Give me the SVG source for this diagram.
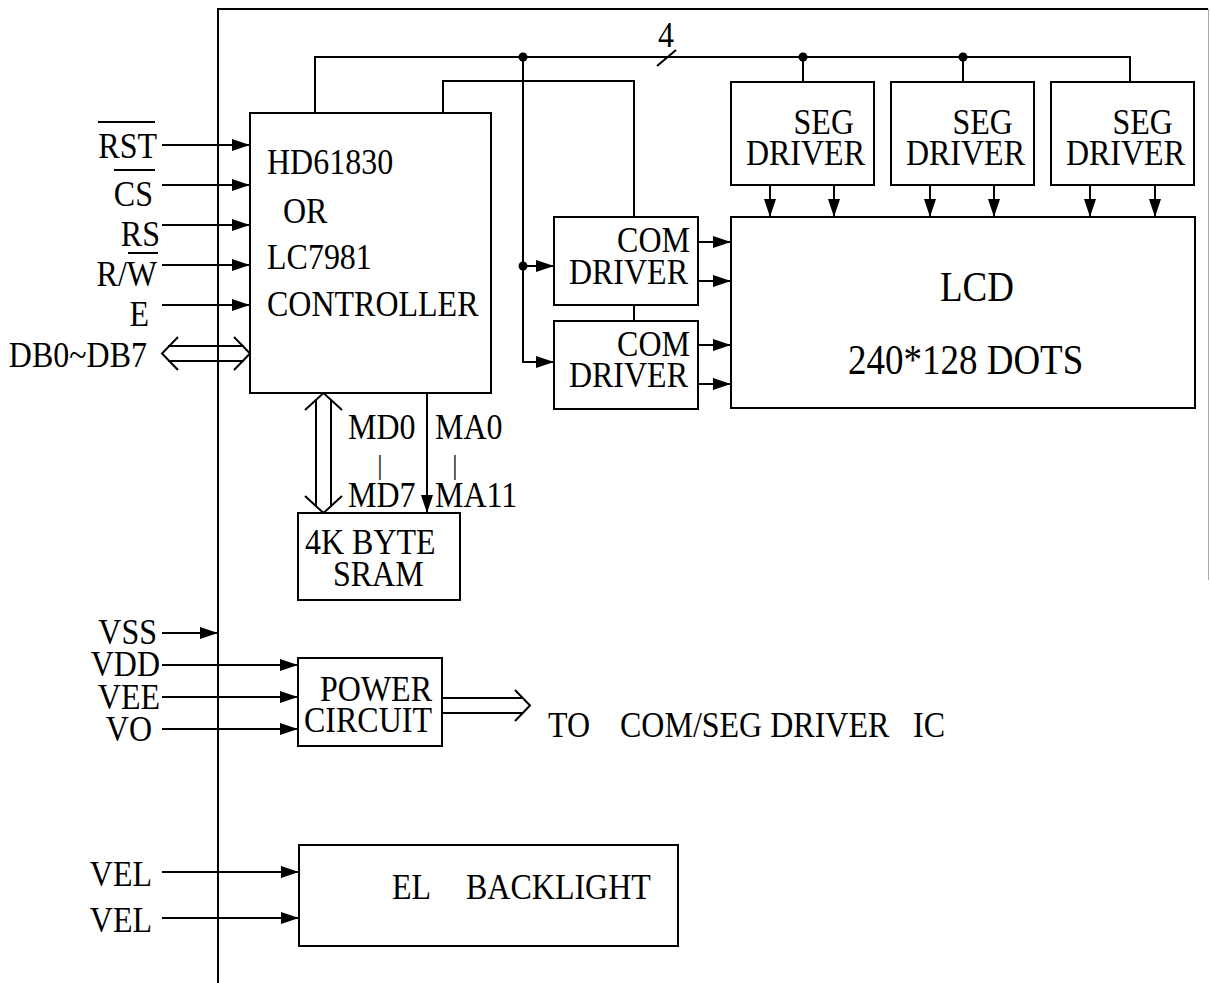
<svg xmlns="http://www.w3.org/2000/svg" width="1210" height="983" viewBox="0 0 1210 983">
<defs>
<marker id="ah" markerUnits="userSpaceOnUse" markerWidth="18" markerHeight="12" refX="18" refY="6" orient="auto" viewBox="0 0 18 12">
<path d="M0,0 L18,6 L0,12 z" fill="#000"/>
</marker>
</defs>
<style>
.t{font-family:"Liberation Serif","Times New Roman",serif;font-size:32px;fill:#000;transform-box:fill-box;transform-origin:0 100%;transform:scaleY(1.12)}
.e{text-anchor:end}
.big{font-size:37px}
.box{fill:#fff;stroke:#000;stroke-width:2}
.w{fill:none;stroke:#000;stroke-width:2}
.a{fill:none;stroke:#000;stroke-width:2;marker-end:url(#ah)}
</style>
<rect width="1210" height="983" fill="#fff"/>
<g id="frame">
<path class="w" d="M218,983 V9 H1208"/>
<path d="M1208.5,9 V580" stroke="#aaa" stroke-width="1" fill="none"/>
</g>
<g id="connectors">
<path class="w" d="M315,113 V57 H1130 V82"/>
<path class="w" d="M803,57 V82 M963,57 V82"/>
<path class="w" d="M443,113 V81 H634 V217"/>
<path class="w" d="M634,305 V321"/>
<path class="a" d="M523,57 V362 H554"/>
<path class="a" d="M523,266 H554"/>
<circle cx="523" cy="57" r="4.5"/>
<circle cx="803" cy="57" r="4.5"/>
<circle cx="963" cy="57" r="4.5"/>
<circle cx="523" cy="266" r="4.5"/>
<path class="w" d="M657,66 L676,50"/>
<path class="a" d="M698,242 H731"/>
<path class="a" d="M698,281 H731"/>
<path class="a" d="M698,345 H731"/>
<path class="a" d="M698,384 H731"/>
<path class="a" d="M770,185 V217"/>
<path class="a" d="M834,185 V217"/>
<path class="a" d="M930,185 V217"/>
<path class="a" d="M994,185 V217"/>
<path class="a" d="M1090,185 V217"/>
<path class="a" d="M1155,185 V217"/>
<path class="a" d="M162,145 H250"/>
<path class="a" d="M162,185 H250"/>
<path class="a" d="M162,225 H250"/>
<path class="a" d="M162,265 H250"/>
<path class="a" d="M162,305 H250"/>
<path class="w" d="M168,346 H244 M168,361 H244 M178,337 L162,353.5 L178,370 M234,337 L250,353.5 L234,370"/>
<path class="w" d="M316,399 V507 M331,399 V507 M305,410 L323.5,393 L342,410 M305,496 L323.5,513 L342,496"/>
<path class="a" d="M427,393 V513"/>
<path class="a" d="M162,633 H218"/>
<path class="a" d="M162,665 H298"/>
<path class="a" d="M162,697 H298"/>
<path class="a" d="M162,729 H298"/>
<path class="w" d="M442,698 H523 M442,713 H523 M515,690 L530,705.5 L515,721"/>
<path class="a" d="M162,872 H299"/>
<path class="a" d="M162,918 H299"/>
</g>
<g id="pin-labels">
<text class="t e" x="157" y="159">RST</text>
<path class="w" d="M98,122 H155"/>
<text class="t e" x="153" y="207">CS</text>
<path class="w" d="M114,170 H155"/>
<text class="t e" x="160" y="247">RS</text>
<text class="t e" x="157" y="287">R/W</text>
<path class="w" d="M128,253 H158"/>
<text class="t e" x="149" y="327">E</text>
<text class="t e" x="147" y="368">DB0~DB7</text>
<text class="t" x="666" y="48" text-anchor="middle">4</text>
<text class="t" x="348" y="440">MD0</text>
<text class="t" x="380" y="475" text-anchor="middle" style="font-size:24px">|</text>
<text class="t" x="348" y="508">MD7</text>
<text class="t" x="435" y="440">MA0</text>
<text class="t" x="455" y="475" text-anchor="middle" style="font-size:24px">|</text>
<text class="t" x="435" y="508">MA11</text>
<text class="t e" x="157" y="645">VSS</text>
<text class="t e" x="160" y="677">VDD</text>
<text class="t e" x="160" y="710">VEE</text>
<text class="t e" x="152" y="742">VO</text>
<text class="t" x="548" y="738">TO</text>
<text class="t" x="620" y="738">COM/SEG DRIVER</text>
<text class="t" x="913" y="738">IC</text>
<text class="t e" x="152" y="887">VEL</text>
<text class="t e" x="152" y="933">VEL</text>
</g>
<g id="controller">
<rect class="box" x="250" y="113" width="241" height="280"/>
<text class="t" x="267" y="175">HD61830</text>
<text class="t" x="283" y="224">OR</text>
<text class="t" x="267" y="270">LC7981</text>
<text class="t" x="267" y="317">CONTROLLER</text>
</g>
<g id="com1">
<rect class="box" x="554" y="217" width="144" height="88"/>
<text class="t e" x="690" y="253">COM</text>
<text class="t e" x="688" y="285">DRIVER</text>
</g>
<g id="com2">
<rect class="box" x="554" y="321" width="144" height="88"/>
<text class="t e" x="690" y="357">COM</text>
<text class="t e" x="688" y="388">DRIVER</text>
</g>
<g id="seg1">
<rect class="box" x="731" y="82" width="143" height="103"/>
<text class="t e" x="854" y="135">SEG</text>
<text class="t e" x="865" y="166">DRIVER</text>
</g>
<g id="seg2">
<rect class="box" x="891" y="82" width="143" height="103"/>
<text class="t e" x="1013" y="135">SEG</text>
<text class="t e" x="1025" y="166">DRIVER</text>
</g>
<g id="seg3">
<rect class="box" x="1051" y="82" width="143" height="103"/>
<text class="t e" x="1173" y="135">SEG</text>
<text class="t e" x="1185" y="166">DRIVER</text>
</g>
<g id="lcd">
<rect class="box" x="731" y="217" width="464" height="191"/>
<text class="t big" x="977" y="302" text-anchor="middle">LCD</text>
<text class="t big" x="848" y="375">240*128 DOTS</text>
</g>
<g id="sram">
<rect class="box" x="298" y="513" width="162" height="87"/>
<text class="t" x="305" y="555">4K BYTE</text>
<text class="t" x="333" y="587">SRAM</text>
</g>
<g id="power">
<rect class="box" x="298" y="658" width="144" height="88"/>
<text class="t e" x="432" y="702">POWER</text>
<text class="t e" x="432" y="733">CIRCUIT</text>
</g>
<g id="el-backlight">
<rect class="box" x="299" y="845" width="379" height="101"/>
<text class="t" x="392" y="900">EL</text>
<text class="t" x="466" y="900">BACKLIGHT</text>
</g>
</svg>
